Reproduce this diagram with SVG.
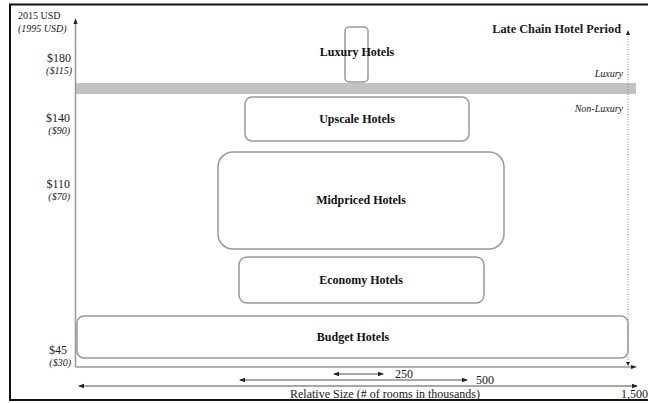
<svg xmlns="http://www.w3.org/2000/svg" width="648" height="403" viewBox="0 0 648 403">
  <style>
    .frame { fill: #fff; stroke: #111; stroke-width: 2; }
    .box { fill: none; stroke: #999; stroke-width: 1.5; }
    .axis { fill: none; stroke: #999; stroke-width: 1.5; }
    .dim { fill: none; stroke: #222; stroke-width: 0.8; }
    .dots { fill: none; stroke: #888; stroke-width: 1; stroke-dasharray: 1 1.5; }
    .lbl { font-family: "Liberation Serif", "Times New Roman", serif; font-size: 12px; fill: #1a1a1a; }
    .it { font-style: italic; font-size: 10px; }
    .hotel { font-family: "Liberation Serif", "Times New Roman", serif; font-size: 12px; font-weight: bold; fill: #111; text-anchor: middle; }
  </style>
  <defs>
    <marker id="ah" viewBox="0 0 6 6" refX="5" refY="3" markerWidth="6" markerHeight="6" orient="auto-start-reverse" markerUnits="userSpaceOnUse">
      <path d="M0,0.8 L6,3 L0,5.2 Z" fill="#222"/>
    </marker>
  </defs>

  <rect class="frame" x="10" y="4.5" width="640" height="395.5"/>

  <!-- luxury / non-luxury divider -->
  <rect x="76" y="83" width="560" height="11" fill="#c2c2c2"/>

  <g id="axes">
    <path class="axis" d="M75.5,367 V22"/>
    <path d="M73.5,24 L75.5,18 L77.5,24 Z" fill="#222"/>
    <path class="axis" d="M75.5,367 H632"/>
    <path d="M631,365 L637,367 L631,369 Z" fill="#222"/>
    <path class="dots" d="M628,34 V362"/>
    <path d="M626,35 L628,30 L630,35 Z" fill="#222"/>
    <path d="M626,362 L628,366 L630,362 Z" fill="#222"/>
  </g>

  <g id="y-labels" class="lbl">
    <text x="18" y="19" font-size="10">2015 USD</text>
    <text x="18" y="32" class="it">(1995 USD)</text>
    <g text-anchor="end">
      <text x="71" y="62">$180</text>
      <text x="72" y="74" class="it">($115)</text>
      <text x="70" y="122">$140</text>
      <text x="70" y="134" class="it">($90)</text>
      <text x="70" y="188">$110</text>
      <text x="70" y="200" class="it">($70)</text>
      <text x="67" y="354">$45</text>
      <text x="71" y="366" class="it">($30)</text>
    </g>
  </g>

  <g id="period-labels" class="lbl">
    <text x="621" y="33" font-weight="bold" font-size="12.3" text-anchor="end">Late Chain Hotel Period</text>
    <text x="623" y="77" class="it" font-size="9" text-anchor="end">Luxury</text>
    <text x="623" y="112" class="it" font-size="9" text-anchor="end">Non-Luxury</text>
  </g>

  <g id="luxury">
    <rect class="box" x="345" y="27" width="23" height="55" rx="4"/>
    <text class="hotel" x="357" y="56">Luxury Hotels</text>
  </g>
  <g id="upscale">
    <rect class="box" x="245" y="97" width="224" height="44" rx="7"/>
    <text class="hotel" x="357" y="123">Upscale Hotels</text>
  </g>
  <g id="midpriced">
    <rect class="box" x="218" y="152" width="286" height="97" rx="15"/>
    <text class="hotel" x="361" y="204">Midpriced Hotels</text>
  </g>
  <g id="economy">
    <rect class="box" x="239" y="257" width="245" height="46" rx="8"/>
    <text class="hotel" x="361" y="284">Economy Hotels</text>
  </g>
  <g id="budget">
    <rect class="box" x="77" y="316" width="551" height="42" rx="7"/>
    <text class="hotel" x="353" y="341">Budget Hotels</text>
  </g>

  <g id="scale">
    <path class="dim" d="M334,374 H383" marker-start="url(#ah)" marker-end="url(#ah)"/>
    <path class="dim" d="M240,380 H467" marker-start="url(#ah)" marker-end="url(#ah)"/>
    <path class="dim" d="M79,386 H637" marker-start="url(#ah)" marker-end="url(#ah)"/>
    <g class="lbl">
      <text x="395" y="378">250</text>
      <text x="476" y="384">500</text>
      <text x="648" y="398" text-anchor="end">1,500</text>
      <text x="385" y="398" text-anchor="middle">Relative Size (# of rooms in thousands)</text>
    </g>
  </g>
</svg>
